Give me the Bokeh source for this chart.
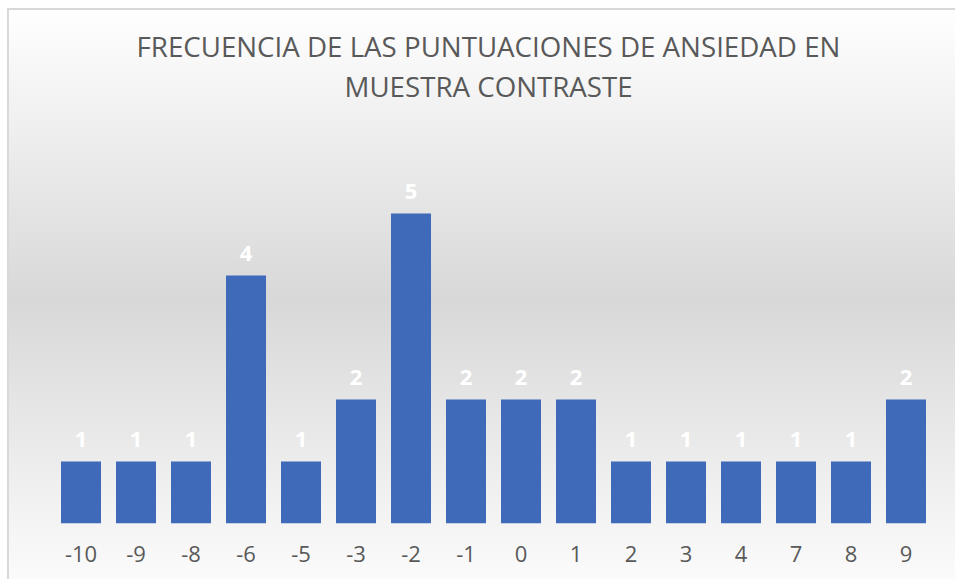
from bokeh.plotting import figure
from bokeh.models import ColumnDataSource, LabelSet, Range1d, FactorRange, Title
from bokeh.core.properties import value
from bokeh.embed import file_html
from bokeh.resources import INLINE

categories = ["-10", "-9", "-8", "-6", "-5", "-3", "-2", "-1", "0", "1", "2", "3", "4", "7", "8", "9"]
frequencies = [1, 1, 1, 4, 1, 2, 5, 2, 2, 2, 1, 1, 1, 1, 1, 2]
title_lines = ["FRECUENCIA DE LAS PUNTUACIONES DE ANSIEDAD EN", "MUESTRA CONTRASTE"]

source = ColumnDataSource(data=dict(cat=categories, freq=frequencies, lab=[str(v) for v in frequencies]))

p = figure(
    width=948, height=571,
    x_range=FactorRange(*categories, range_padding=0),
    y_range=Range1d(0, 6),
    output_backend="svg", toolbar_location=None,
    y_axis_location=None,
    min_border_left=46, min_border_right=22, min_border_top=143, min_border_bottom=56,
    title=None,
)
p.margin = (8, 0, 0, 7)
p.styles = {
    "background": "linear-gradient(to bottom, #ffffff 0%, #d8d8d8 51%, #fbfbfb 100%)",
    "box-shadow": "inset 2px 2px 0 #d9d9d9",
}
p.background_fill_color = None
p.border_fill_color = None
p.outline_line_color = None
p.xgrid.grid_line_color = None
p.ygrid.grid_line_color = None

p.vbar(x="cat", top="freq", width=0.727, source=source,
       fill_color="#3f69b9", line_color=None)

labels = LabelSet(x="cat", y="freq", text="lab", source=source, y_offset=22,
                  text_align="center", text_baseline="middle",
                  text_color="white", text_font=value("Open Sans"), text_font_style="bold",
                  text_font_size="22px")
p.add_layout(labels)

p.xaxis.axis_line_color = None
p.xaxis.major_tick_line_color = None
p.xaxis.minor_tick_line_color = None
p.xaxis.major_label_text_font = "Open Sans"
p.xaxis.major_label_text_font_size = "22px"
p.xaxis.major_label_text_color = "#595959"
p.xaxis.major_label_standoff = 16

# spacer between plot frame and the two-line title (first added sits closest to the frame)
p.add_layout(Title(text=" ", standoff=44, text_font_size="1px"), "above")
for txt, off in zip(reversed(title_lines), [291, 83]):
    p.add_layout(Title(text=txt, align="left", standoff=0, offset=off,
                       text_font="Open Sans", text_font_size="27.7px",
                       text_font_style="normal", text_color="#595959"), "above")

open("out.html", "w").write(file_html(p, INLINE))
